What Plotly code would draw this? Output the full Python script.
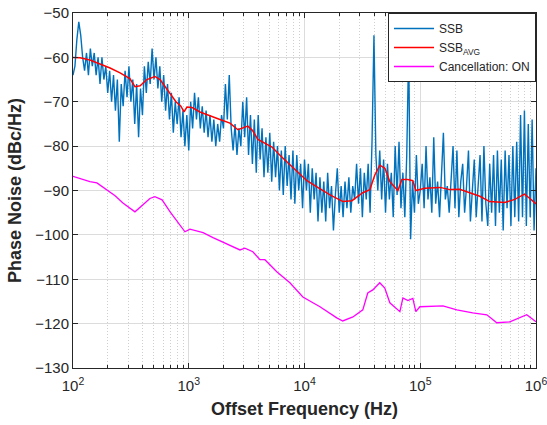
import numpy as np
import plotly.graph_objects as go

# --- SSB measured trace (dBc/Hz), 60 points per decade from 100 Hz to 1 MHz ---
ssb_dec1 = [-64, -62, -56, -52, -55, -60, -63, -59, -64, -58, -62, -59, -64, -60, -66, -60,
            -65, -62, -68, -63, -70, -64, -72, -65, -79, -66, -71, -63, -69, -62, -70, -65,
            -75, -66, -78, -67, -73, -62, -68, -61, -66, -58, -65, -60, -67, -62, -70, -64,
            -72, -66, -74, -68, -77, -70, -75, -69, -78, -72, -80, -73]
ssb_dec2 = [-81, -70, -76, -68, -74, -69, -76, -71, -77, -72, -78, -73, -79, -74, -80, -75,
            -79, -73, -76, -66, -74, -64, -76, -81, -75, -82, -76, -80, -70, -78, -69, -82,
            -73, -84, -74, -86, -73, -83, -76, -87, -78, -86, -77, -88, -79, -87, -80, -90,
            -81, -91, -80, -89, -82, -92, -81, -93, -82, -90, -84, -94]
ssb_dec3 = [-83, -90, -84, -95, -85, -92, -86, -97, -87, -95, -88, -97, -86, -94, -89, -99,
            -91, -85, -95, -89, -96, -88, -94, -87, -95, -89, -92, -84, -93, -85, -96, -86,
            -92, -84, -95, -79, -55, -82, -90, -81, -92, -83, -95, -84, -92, -86, -96, -80,
            -91, -79, -94, -86, -96, -82, -58, -101, -88, -95, -82, -93]
ssb_dec4 = [-90, -84, -94, -80, -92, -87, -95, -78, -93, -88, -96, -86, -77, -92, -89, -95,
            -87, -80, -94, -81, -96, -88, -84, -95, -89, -81, -97, -90, -83, -96, -89, -82,
            -97, -80, -93, -98, -84, -95, -82, -98, -81, -95, -83, -99, -81, -94, -82, -98,
            -80, -96, -79, -97, -73, -96, -72, -98, -75, -96, -74, -99, -85]
ssb_db = ssb_dec1 + ssb_dec2 + ssb_dec3 + ssb_dec4
ssb_freq = np.logspace(2, 6, len(ssb_db))

# --- SSB averaged trace ---
avg_freq = [100, 115, 140, 171, 209, 255, 310, 343, 380, 435, 510, 565, 620, 690, 775, 855,
            910, 965, 1070, 1250, 1520, 1860, 2270, 2660, 3240, 3560, 3960, 4550, 5240, 6260,
            7460, 8740, 10500, 13000, 16600, 21500, 25700, 31900, 36700, 40500, 44800, 49500,
            54600, 64100, 69400, 78000, 86300, 91600, 109600, 148000, 180000, 219000, 269000,
            327000, 398000, 537000, 656000, 796000, 885000, 1000000]
avg_db = [-60.0, -60.1, -60.6, -61.5, -62.4, -63.5, -64.8, -66.6, -66.4, -65.0, -64.3, -65.0,
          -66.5, -68.3, -70.0, -71.0, -72.3, -71.2, -71.3, -72.3, -73.2, -74.0, -74.8, -76.3,
          -75.5, -76.5, -78.5, -79.3, -80.2, -82.3, -84.2, -86.0, -87.8, -89.3, -91.0, -92.5,
          -92.3, -90.5, -89.8, -86.5, -84.3, -85.0, -88.0, -90.0, -87.5, -87.5, -87.8, -90.0,
          -89.5, -89.3, -89.8, -89.7, -90.5, -91.3, -92.5, -92.7, -92.0, -90.8, -91.8, -93.0]

# --- Cancellation ON trace ---
canc_freq = [100, 140, 161, 197, 231, 270, 310, 343, 402, 462, 510, 588, 690, 840, 927, 1024,
             1330, 1620, 1970, 2360, 2770, 3050, 3580, 4120, 4550, 5760, 7480, 9680, 13600,
             19000, 21400, 26200, 31900, 35200, 38900, 44700, 49400, 54600, 66700, 70800,
             78200, 86300, 91600, 99300, 157000, 207000, 284000, 376000, 458000, 594000,
             725000, 832000, 1000000]
canc_db = [-86.8, -88.0, -88.3, -89.9, -91.2, -92.8, -94.0, -94.8, -93.2, -91.8, -91.4, -92.1,
           -94.8, -97.7, -99.3, -98.7, -99.5, -100.6, -101.6, -102.5, -103.4, -103.0, -103.8,
           -105.6, -105.6, -108.3, -110.8, -114.0, -116.2, -118.7, -119.4, -118.5, -116.9,
           -113.1, -112.4, -110.8, -112.0, -115.3, -117.3, -114.2, -114.8, -114.3, -117.3,
           -116.2, -116.0, -116.9, -117.6, -118.0, -119.8, -119.6, -118.7, -118.0, -119.6]

x_tickvals = [1e2, 1e3, 1e4, 1e5, 1e6]
x_ticktext = ["10<sup>2</sup>", "10<sup>3</sup>", "10<sup>4</sup>", "10<sup>5</sup>", "10<sup>6</sup>"]
y_tickvals = [-130, -120, -110, -100, -90, -80, -70, -60, -50]

minor_vals = [m * 10 ** k for k in range(2, 6) for m in range(2, 10)]

axis_col = "#262626"
font_fam = "Liberation Sans, Arial, sans-serif"

fig = go.Figure()
fig.add_trace(go.Scatter(x=ssb_freq, y=ssb_db, mode="lines", name="SSB",
                         line=dict(color="#0072BD", width=1.4)))
fig.add_trace(go.Scatter(x=avg_freq, y=avg_db, mode="lines", name="SSB<sub>AVG</sub>",
                         line=dict(color="#FF0000", width=1.5)))
fig.add_trace(go.Scatter(x=canc_freq, y=canc_db, mode="lines", name="Cancellation: ON",
                         line=dict(color="#FF00FF", width=1.3)))

fig.update_layout(
    width=547, height=425,
    margin=dict(l=73, r=11, t=13, b=57),
    paper_bgcolor="white", plot_bgcolor="white",
    font=dict(family=font_fam, color=axis_col),
    showlegend=True,
    legend=dict(x=1, y=1, xanchor="right", yanchor="top",
                bgcolor="white", bordercolor=axis_col, borderwidth=1,
                font=dict(size=12, color="#262626"),
                tracegroupgap=0, itemwidth=40),
    xaxis=dict(
        type="log", range=[2, 6], automargin=False, ticklabeloverflow="allow",
        tickmode="array", tickvals=x_tickvals, ticktext=x_ticktext,
        ticks="inside", ticklen=5, tickcolor=axis_col, ticklabelstandoff=4,
        showline=True, linecolor=axis_col, linewidth=1, mirror="ticks",
        showgrid=True, gridcolor="#dcdcdc", gridwidth=1,
        tickfont=dict(size=15, color=axis_col),
        title=dict(text="<b>Offset Frequency (Hz)</b>", font=dict(size=18, color=axis_col), standoff=9),
        minor=dict(tickmode="array", tickvals=minor_vals, ticks="inside", ticklen=3,
                   tickcolor=axis_col, showgrid=True, gridcolor="#cfcfcf", griddash="1px,2px"),
        zeroline=False,
    ),
    yaxis=dict(
        range=[-130, -50], automargin=False, ticklabeloverflow="allow",
        tickmode="array", tickvals=y_tickvals,
        ticks="inside", ticklen=5, tickcolor=axis_col,
        showline=True, linecolor=axis_col, linewidth=1, mirror="ticks",
        showgrid=True, gridcolor="#dcdcdc", gridwidth=1,
        tickfont=dict(size=15, color=axis_col),
        title=dict(text="<b>Phase Noise (dBc/Hz)</b>", font=dict(size=18, color=axis_col), standoff=8),
        zeroline=False,
    ),
)

fig.write_html("out.html")
